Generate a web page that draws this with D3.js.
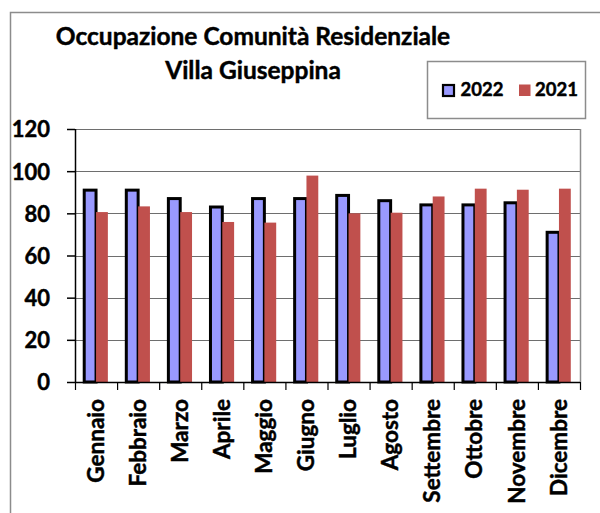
<!DOCTYPE html>
<html>
<head>
<meta charset="utf-8">
<script src="https://cdn.jsdelivr.net/npm/d3@7"></script>
<style>
  body { margin: 0; background: #fff; }
  text { font-family: Lato, "Open Sans", sans-serif; font-weight: bold; fill: #000; stroke: #000; stroke-width: 0.45px; }
</style>
</head>
<body>
<div class="chart"></div>
<script>

var months = ["Gennaio", "Febbraio", "Marzo", "Aprile", "Maggio", "Giugno",
              "Luglio", "Agosto", "Settembre", "Ottobre", "Novembre", "Dicembre"];
var values2022 = [91, 91, 87, 83, 87, 87, 88.5, 86, 84, 84, 85, 71];
var values2021 = [80.6, 83.3, 80.6, 75.9, 75.6, 97.9, 80, 80.3, 88, 91.7, 91.2, 91.7];
var seriesNames = ["2022", "2021"];
var yTicks = [0, 20, 40, 60, 80, 100, 120];
var titleLines = ["Occupazione Comunità Residenziale", "Villa Giuseppina"];

var svgWidth = 600;
var svgHeight = 513;
var plot = {left: 75, right: 580, top: 129, bottom: 382};
var colors = {"2022": "#9999ff", "2021": "#c0504d"};

var data = months.map((m, i) => ({month: m, "2022": values2022[i], "2021": values2021[i]}));

const svg = d3.select(".chart").append("svg")
  .attr("width", svgWidth)
  .attr("height", svgHeight);

svg.append("rect")
  .attr("width", svgWidth)
  .attr("height", svgHeight)
  .attr("fill", "#fff");

// outer chart frame (right and bottom edges fall outside the picture)
svg.append("rect")
  .attr("x", 10.5)
  .attr("y", 12.5)
  .attr("width", 620)
  .attr("height", 620)
  .attr("fill", "none")
  .attr("stroke", "#8c8c8c")
  .attr("stroke-width", 1.5);

// scales
var xScale = d3.scaleBand()
  .domain(months)
  .range([plot.left, plot.right])
  .paddingInner(0)
  .paddingOuter(0);

var xSub = d3.scaleBand()
  .domain(seriesNames)
  .range([0, xScale.bandwidth()])
  .paddingInner(0)
  .paddingOuter(0.78);

var yScale = d3.scaleLinear()
  .domain([0, 120])
  .range([plot.bottom, plot.top]);

// gridlines
svg.append("g")
  .selectAll("line")
  .data(yTicks.filter(d => d > 0))
  .enter()
  .append("line")
  .attr("x1", plot.left)
  .attr("x2", plot.right)
  .attr("y1", d => Math.round(yScale(d)) + 0.5)
  .attr("y2", d => Math.round(yScale(d)) + 0.5)
  .attr("stroke", "#6e6e6e")
  .attr("stroke-width", 1.2);

// right border of plot area
svg.append("line")
  .attr("x1", plot.right + 0.5)
  .attr("x2", plot.right + 0.5)
  .attr("y1", yScale(120))
  .attr("y2", yScale(0))
  .attr("stroke", "#8c8c8c")
  .attr("stroke-width", 1.5);

// bars - blue first with black border, red drawn on top
var groups = svg.append("g")
  .selectAll("g")
  .data(data)
  .enter()
  .append("g")
  .attr("transform", d => "translate(" + xScale(d.month) + ",0)");

groups.append("rect")
  .attr("x", xSub("2022"))
  .attr("y", d => yScale(d["2022"]))
  .attr("width", xSub.bandwidth())
  .attr("height", d => yScale(0) - yScale(d["2022"]))
  .attr("fill", colors["2022"])
  .attr("stroke", "#000")
  .attr("stroke-width", 3);

groups.append("rect")
  .attr("x", xSub("2021"))
  .attr("y", d => yScale(d["2021"]))
  .attr("width", xSub.bandwidth())
  .attr("height", d => yScale(0) - yScale(d["2021"]))
  .attr("fill", colors["2021"]);

// y axis
var yAxis = svg.append("g")
  .attr("transform", "translate(" + plot.left + ",0)")
  .call(d3.axisLeft(yScale)
          .tickValues(yTicks)
          .tickSize(8)
          .tickPadding(17));

yAxis.selectAll("line, path").attr("stroke", "#000").attr("stroke-width", 1.5);
yAxis.select(".domain").attr("d", "M0.5," + yScale(120) + "V" + yScale(0));
yAxis.selectAll("text")
  .attr("font-size", "22px")
  .attr("dy", "0.36em")
  .attr("font-family", "Lato")
  .attr("font-weight", "bold")
  .attr("fill", "#000");

// x axis line and category ticks
svg.append("line")
  .attr("x1", plot.left)
  .attr("x2", plot.right)
  .attr("y1", yScale(0) + 0.5)
  .attr("y2", yScale(0) + 0.5)
  .attr("stroke", "#000")
  .attr("stroke-width", 1.5);

svg.append("g")
  .selectAll("line")
  .data(months.map(m => xScale(m)).concat([plot.right]))
  .enter()
  .append("line")
  .attr("x1", d => d + 0.5)
  .attr("x2", d => d + 0.5)
  .attr("y1", yScale(0))
  .attr("y2", yScale(0) + 8)
  .attr("stroke", "#000")
  .attr("stroke-width", 1.2);

svg.append("g")
  .selectAll("text")
  .data(months)
  .enter()
  .append("text")
  .attr("transform", d => "translate(" + (xScale(d) + xScale.bandwidth() / 2) + "," + (yScale(0) + 17) + ") rotate(-90)")
  .attr("text-anchor", "end")
  .attr("dy", "0.34em")
  .attr("font-size", "22.5px")
  .text(d => d);

// title
svg.append("g")
  .selectAll("text")
  .data(titleLines)
  .enter()
  .append("text")
  .attr("x", 253)
  .attr("y", (d, i) => 45 + i * 34)
  .attr("text-anchor", "middle")
  .attr("font-size", "24.5px")
  .text(d => d);

// legend
var legend = svg.append("g");

legend.append("rect")
  .attr("x", 427.5)
  .attr("y", 61.5)
  .attr("width", 158)
  .attr("height", 57)
  .attr("fill", "#fff")
  .attr("stroke", "#8c8c8c")
  .attr("stroke-width", 1.5);

var legendX = {"2022": 443, "2021": 519};

seriesNames.forEach(function(s) {
  legend.append("rect")
    .attr("x", legendX[s])
    .attr("y", s == "2022" ? 85 : 84.5)
    .attr("width", s == "2022" ? 11 : 11.5)
    .attr("height", s == "2022" ? 11 : 11.5)
    .attr("fill", colors[s])
    .attr("stroke", s == "2022" ? "#000" : "none")
    .attr("stroke-width", 2.2);
  legend.append("text")
    .attr("x", legendX[s] + (s == "2022" ? 17.5 : 16))
    .attr("y", 96)
    .attr("font-size", "18.5px")
    .text(s);
});

</script>
</body>
</html>
